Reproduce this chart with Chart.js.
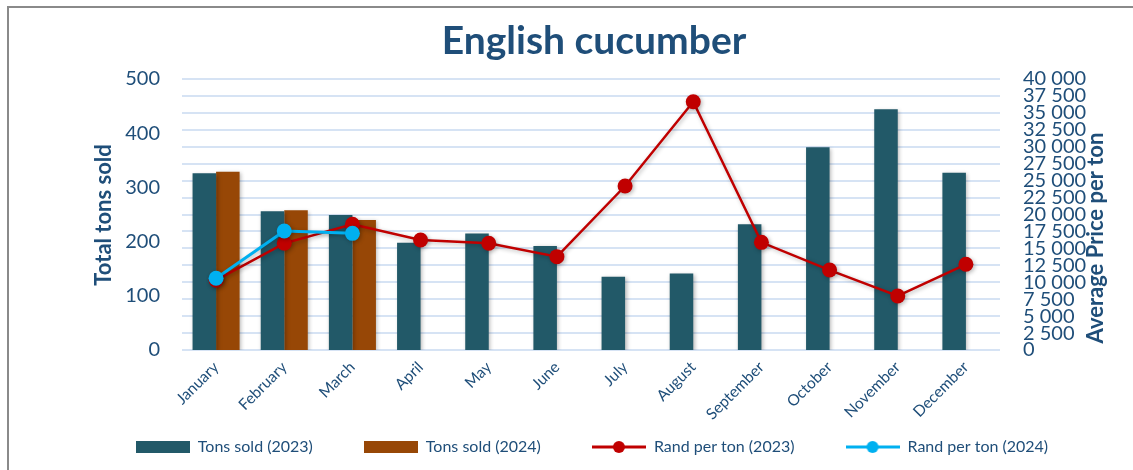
<!DOCTYPE html>
<html><head><meta charset="utf-8">
<script src="https://cdn.jsdelivr.net/npm/chart.js@4/dist/chart.umd.min.js"></script>
<style>
html,body{margin:0;padding:0;background:#fff;overflow:hidden;width:1133px;height:470px;}
#frame{position:absolute;left:7px;top:6px;width:1200px;height:520px;border:2px solid #8a8a8a;box-sizing:border-box;}
#wrap{position:absolute;left:0;top:0;width:1133px;height:470px;}
</style></head><body>
<div id="frame"></div>
<div id="wrap"><canvas id="c" width="1133" height="470"></canvas></div>
<script>
const chartTitle = 'English cucumber';
const leftTitle = 'Total tons sold';
const rightTitle = 'Average Price per ton';
const months = ['January','February','March','April','May','June','July','August','September','October','November','December'];
const tons2023 = [326, 256, 249, 198, 215, 192, 135, 141, 232, 374, 444, 327];
const tons2024 = [329, 258, 240, null, null, null, null, null, null, null, null, null];
const rand2023 = [10300, 15750, 18550, 16240, 15750, 13780, 24200, 36650, 15890, 11800, 7970, 12650];
const rand2024 = [10580, 17560, 17220, null, null, null, null, null, null, null, null, null];
const seriesNames = ['Tons sold (2023)', 'Tons sold (2024)', 'Rand per ton (2023)', 'Rand per ton (2024)'];

const TEXT = '#1F4E79';
const FONT = 'Lato, "Open Sans", sans-serif';
const C_TEAL = '#225968', C_BROWN = '#974706', C_RED = '#C00000', C_BLUE = '#00B0F0';

function legendImage(type, color) {
  const c = document.createElement('canvas'); c.width = 54; c.height = 16;
  const g = c.getContext('2d');
  if (type === 'bar') { g.fillStyle = color; g.fillRect(0, 2, 54, 12); }
  else {
    g.strokeStyle = color; g.lineWidth = 3; g.beginPath(); g.moveTo(0, 8); g.lineTo(54, 8); g.stroke();
    g.fillStyle = color; g.beginPath(); g.arc(27, 8, 6, 0, 2 * Math.PI); g.fill();
  }
  return c;
}
const legendImgs = [legendImage('bar', C_TEAL), legendImage('bar', C_BROWN), legendImage('line', C_RED), legendImage('line', C_BLUE)];

const fmt = v => String(v).replace(/\B(?=(\d{3})+(?!\d))/g, ' ');

const shadowPlugin = {
  id: 'shadow',
  beforeDatasetDraw(chart) { const ctx = chart.ctx; ctx.save(); ctx.shadowColor = 'rgba(0,0,0,0.28)'; ctx.shadowBlur = 4; ctx.shadowOffsetX = 1.5; ctx.shadowOffsetY = 1.5; },
  afterDatasetDraw(chart) { chart.ctx.restore(); }
};

// let the rotated month labels overflow the x-axis box (as in the reference)
const noClipPlugin = {
  id: 'noClip',
  afterUpdate(chart) { chart.scales.x._computeLabelArea = () => undefined; }
};

const textPlugin = {
  id: 'texts',
  afterDraw(chart) {
    const ctx = chart.ctx;
    ctx.save();
    ctx.fillStyle = TEXT;
    ctx.font = 'bold 39px ' + FONT;
    ctx.textAlign = 'center'; ctx.textBaseline = 'alphabetic';
    ctx.fillText(chartTitle, 594, 54);
    ctx.font = 'bold 22px ' + FONT;
    ctx.textBaseline = 'middle';
    ctx.save(); ctx.translate(104, 215); ctx.rotate(-Math.PI / 2); ctx.fillText(leftTitle, 0, 0); ctx.restore();
    ctx.save(); ctx.translate(1096, 238); ctx.rotate(-Math.PI / 2); ctx.fillText(rightTitle, 0, 0); ctx.restore();
    ctx.restore();
  }
};

new Chart(document.getElementById('c'), {
  data: {
    labels: months,
    datasets: [
      { type: 'bar', label: seriesNames[0], data: tons2023, backgroundColor: C_TEAL, yAxisID: 'y', order: 2, barPercentage: 1, categoryPercentage: 0.69 },
      { type: 'bar', label: seriesNames[1], data: tons2024, backgroundColor: C_BROWN, yAxisID: 'y', order: 2, barPercentage: 1, categoryPercentage: 0.69 },
      { type: 'line', label: seriesNames[2], data: rand2023, borderColor: C_RED, backgroundColor: C_RED, borderWidth: 2.5, pointRadius: 7.5, pointHoverRadius: 7.5, pointBorderWidth: 0, tension: 0, yAxisID: 'y1', order: 1 },
      { type: 'line', label: seriesNames[3], data: rand2024, borderColor: C_BLUE, backgroundColor: C_BLUE, borderWidth: 3, pointRadius: 7.5, pointHoverRadius: 7.5, pointBorderWidth: 0, tension: 0, yAxisID: 'y1', order: 0 }
    ]
  },
  options: {
    responsive: false,
    animation: false,
    layout: { padding: { left: 51, right: 0, top: 79, bottom: 5 } },
    plugins: {
      title: { display: false },
      tooltip: { enabled: false },
      legend: {
        position: 'bottom',
        labels: {
          usePointStyle: true,
          pointStyleWidth: 54,
          padding: 51,
          color: TEXT,
          font: { family: FONT, size: 16 },
          generateLabels: chart => chart.data.datasets.map((ds, i) => ({
            text: ds.label, pointStyle: legendImgs[i], fillStyle: 'transparent', strokeStyle: 'transparent',
            lineWidth: 0, hidden: false, datasetIndex: i, fontColor: TEXT
          }))
        }
      }
    },
    scales: {
      x: {
        grid: { display: false, drawTicks: false }, border: { display: false },
        ticks: { color: TEXT, font: { family: FONT, size: 15.5 }, minRotation: 45, maxRotation: 45, padding: 8, autoSkip: false },
        afterFit: s => { s.height = 38; }
      },
      y: {
        position: 'left', min: 0, max: 500,
        grid: { display: false, drawTicks: false }, border: { display: false },
        ticks: { stepSize: 100, color: TEXT, font: { family: FONT, size: 20 }, padding: 22 },
        afterFit: s => { s.width = 131; }
      },
      y1: {
        position: 'right', min: 0, max: 40000,
        grid: { color: '#D6E3F4', lineWidth: 2, drawTicks: false }, border: { display: false },
        ticks: { stepSize: 2500, autoSkip: false, color: TEXT, font: { family: FONT, size: 20 }, padding: 23, callback: v => fmt(v) },
        afterFit: s => { s.width = 133; }
      }
    }
  },
  plugins: [shadowPlugin, noClipPlugin, textPlugin]
});
</script>
</body></html>
